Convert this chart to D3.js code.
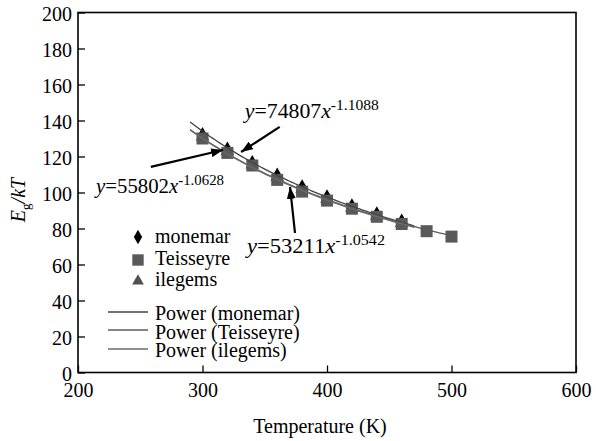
<!DOCTYPE html>
<html lang="en">
<head>
<meta charset="UTF-8">
<title>Eg/kT vs Temperature</title>
<style>
  body { margin:0; background:#fff; }
  #CHART { display:block; }
  #CHART text { font-family: 'Liberation Serif', 'Times New Roman', serif; }
</style>
</head>
<body>
<svg id="CHART" width="596" height="441"></svg>
<script src="https://cdnjs.cloudflare.com/ajax/libs/d3/7.8.5/d3.min.js"></script>
<script>
// ---- data ----
const seriesNames = ["monemar", "Teisseyre", "ilegems"];

const monemarT = [300, 320, 340, 360, 380, 400, 420, 440, 460];
const monemarV = [132, 124, 116.5, 109.5, 103, 97.5, 92.5, 88, 84];

const teisseyreT = [300, 320, 340, 360, 380, 400, 420, 440, 460, 480, 500];
const teisseyreV = [130, 122, 115, 107, 100.5, 95.5, 91, 86.5, 82.5, 78.5, 75.5];

const ilegemsT = [300, 320, 340, 360, 380, 400, 420, 440, 460];
const ilegemsV = [131, 123, 115.5, 108.5, 102, 96.5, 91.5, 87, 83];

// power trendlines y = a*x^b (coefficients as printed on the chart)
const fitA = [74807, 53211, 55802];
const fitB = [-1.1088, -1.0542, -1.0628];
const fitFrom = [290, 290, 290];
const fitTo = [470, 505, 470];

const xTicks = [200, 300, 400, 500, 600];
const yTicks = [0, 20, 40, 60, 80, 100, 120, 140, 160, 180, 200];

// ---- layout ----
const svg = d3.select("#CHART");
const x = d3.scaleLinear().domain([200, 600]).range([78, 576]);
const y = d3.scaleLinear().domain([0, 200]).range([372.5, 12.5]);

const markColor = ["#000", "#595959", "#3a3a3a"];
const lineColor = ["#444", "#5c5c5c", "#6a6a6a"];
const symbols = [d3.symbolDiamond, d3.symbolSquare, d3.symbolTriangle];
const symSize = [70, 144, 80];

// arrow head
svg.append("defs").append("marker")
    .attr("id", "arrow")
    .attr("markerUnits", "userSpaceOnUse")
    .attr("markerWidth", 12).attr("markerHeight", 9)
    .attr("refX", 12).attr("refY", 4.5)
    .attr("orient", "auto")
  .append("path")
    .attr("d", "M0,0 L12,4.5 L0,9 Z")
    .attr("fill", "#000");

// axes
const yAxis = svg.append("g")
    .attr("transform", "translate(" + x.range()[0] + ",0)")
    .call(d3.axisLeft(y).tickValues(yTicks).tickSizeInner(-7).tickSizeOuter(0).tickPadding(6));
yAxis.attr("font-family", null).attr("font-size", 20);
yAxis.select(".domain").remove();
yAxis.selectAll("line").attr("stroke", "#000").attr("stroke-width", 1.3);
yAxis.selectAll("text").attr("fill", "#000").attr("dy", "0.42em");

const xAxis = svg.append("g")
    .attr("transform", "translate(0," + y.range()[0] + ")")
    .call(d3.axisBottom(x).tickValues(xTicks).tickSizeInner(-7).tickSizeOuter(0).tickPadding(10));
xAxis.attr("font-family", null).attr("font-size", 20);
xAxis.select(".domain").remove();
xAxis.selectAll("line").attr("stroke", "#000").attr("stroke-width", 1.3);
xAxis.selectAll("text").attr("fill", "#000");

// frame
svg.append("rect")
    .attr("x", x.range()[0]).attr("y", y.range()[1])
    .attr("width", x.range()[1] - x.range()[0])
    .attr("height", y.range()[0] - y.range()[1])
    .attr("fill", "none").attr("stroke", "#000").attr("stroke-width", 1.6);

// axis titles
svg.append("text")
    .attr("x", 320).attr("y", 433)
    .attr("text-anchor", "middle").attr("font-size", 20)
    .text("Temperature (K)");

const yt = svg.append("text")
    .attr("transform", "translate(25,200) rotate(-90)")
    .attr("text-anchor", "middle").attr("font-size", 20);
yt.append("tspan").attr("font-style", "italic").text("E");
yt.append("tspan").attr("font-size", 13).attr("dy", 5).text("g");
yt.append("tspan").attr("font-style", "italic").attr("dy", -5).text("/kT");

// markers (triangles and diamonds under, squares on top)
const pts = [
  monemarT.map((t, i) => ({t: t, v: monemarV[i]})),
  teisseyreT.map((t, i) => ({t: t, v: teisseyreV[i]})),
  ilegemsT.map((t, i) => ({t: t, v: ilegemsV[i]}))
];
[2, 0, 1].forEach(function(s) {
  svg.append("g").selectAll("path")
    .data(pts[s])
    .join("path")
      .attr("transform", d => "translate(" + x(d.t) + "," + y(d.v) + ")")
      .attr("d", d3.symbol().type(symbols[s]).size(symSize[s]))
      .attr("fill", markColor[s]);
});

// trendlines
const line = d3.line().x(d => x(d[0])).y(d => y(d[1]));
fitA.forEach(function(a, s) {
  const ts = d3.range(fitFrom[s], fitTo[s] + 0.1, 2);
  svg.append("path")
    .datum(ts.map(t => [t, a * Math.pow(t, fitB[s])]))
    .attr("d", line)
    .attr("fill", "none")
    .attr("stroke", lineColor[s])
    .attr("stroke-width", 1.3);
});

// equation labels with arrows (positions in data units)
const notes = [
  { main: "74807", sup: "-1.1088", tx: 334, ty: 141.5, w: 134, x1: 362, y1: 136.5, x2: 331, y2: 122.5 },
  { main: "55802", sup: "-1.0628", tx: 214.5, ty: 99.7, w: 128, x1: 258.5, y1: 114.2, x2: 316.5, y2: 123.6 },
  { main: "53211", sup: "-1.0542", tx: 335.7, ty: 66.4, w: 138, x1: 374.3, y1: 77.5, x2: 370.3, y2: 103.1 }
];
notes.forEach(function(n) {
  svg.append("line")
    .attr("x1", x(n.x1)).attr("y1", y(n.y1))
    .attr("x2", x(n.x2)).attr("y2", y(n.y2))
    .attr("stroke", "#000").attr("stroke-width", 2.2)
    .attr("marker-end", "url(#arrow)");
  const t = svg.append("text")
    .attr("x", x(n.tx)).attr("y", y(n.ty))
    .attr("font-size", 21)
    .attr("textLength", n.w).attr("lengthAdjust", "spacingAndGlyphs");
  t.append("tspan").attr("font-style", "italic").text("y");
  t.append("tspan").text("=" + n.main);
  t.append("tspan").attr("font-style", "italic").text("x");
  t.append("tspan").attr("font-size", 15).attr("dy", -8).text(n.sup);
});

// legend
const legMarkY = [237, 260, 281];
const legTextY = [243, 265, 286];
seriesNames.forEach(function(name, s) {
  svg.append("path")
    .attr("transform", "translate(138," + legMarkY[s] + ")")
    .attr("d", d3.symbol().type(symbols[s]).size(s === 1 ? 130 : 60))
    .attr("fill", s === 2 ? "#505050" : markColor[s]);
  svg.append("text")
    .attr("x", 155).attr("y", legTextY[s])
    .attr("font-size", 20)
    .text(name);
});
const legLineY = [312, 330, 349];
const legLineText = [320, 339, 357];
seriesNames.forEach(function(name, s) {
  svg.append("line")
    .attr("x1", 108).attr("x2", 148)
    .attr("y1", legLineY[s]).attr("y2", legLineY[s])
    .attr("stroke", lineColor[s]).attr("stroke-width", 1.3);
  svg.append("text")
    .attr("x", 155).attr("y", legLineText[s])
    .attr("font-size", 20)
    .text("Power (" + name + ")");
});
</script>
</body>
</html>
